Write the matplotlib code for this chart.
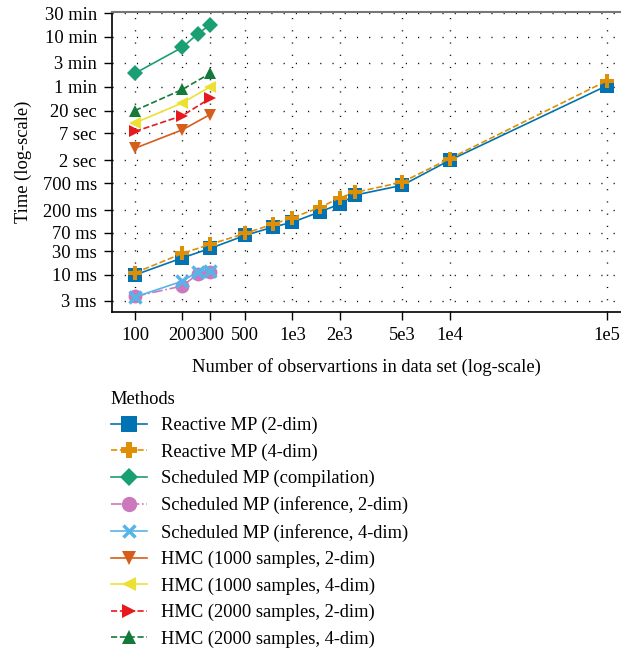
import matplotlib.pyplot as plt

# ==========================
# Data (time in seconds)
# ==========================

n_reactive = [100, 200, 300, 500, 750, 1000, 1500, 2000, 2500, 5000, 10000, 100000]
reactive_2d = [0.010, 0.022, 0.034, 0.062, 0.091, 0.114, 0.185, 0.264, 0.40, 0.63, 2.0, 63]
reactive_4d = [0.011, 0.027, 0.041, 0.068, 0.104, 0.141, 0.226, 0.353, 0.452, 0.73, 2.16, 79]

n_scheduled = [100, 200, 250, 300]
sched_compile = [112, 372, 689, 1050]
sched_inf_2d = [0.0037, 0.0060, 0.0103, 0.0116]
sched_inf_4d = [0.0036, 0.0075, 0.0116, 0.0120]

n_hmc = [100, 200, 300]
hmc_1000_2d = [3.5, 8.2, 16.6]
hmc_1000_4d = [11.3, 28.4, 60]
hmc_2000_2d = [7.6, 15.8, 35]
hmc_2000_4d = [20, 53, 111]

x_ticks = [100, 200, 300, 500, 1000, 2000, 5000, 10000, 100000]
x_labels = ["100", "200", "300", "500", "1e3", "2e3", "5e3", "1e4", "1e5"]

y_ticks = [0.003, 0.01, 0.03, 0.07, 0.2, 0.7, 2, 7, 20, 60, 180, 600, 1800]
y_labels = ["3 ms", "10 ms", "30 ms", "70 ms", "200 ms", "700 ms", "2 sec",
            "7 sec", "20 sec", "1 min", "3 min", "10 min", "30 min"]

series = [
    (n_reactive, reactive_2d, "Reactive MP (2-dim)", "#0173B2", "-", "s"),
    (n_reactive, reactive_4d, "Reactive MP (4-dim)", "#DE8F05", "--", "P"),
    (n_scheduled, sched_compile, "Scheduled MP (compilation)", "#1A9E73", "-", "D"),
    (n_scheduled, sched_inf_2d, "Scheduled MP (inference, 2-dim)", "#CC78BC", "-.", "o"),
    (n_scheduled, sched_inf_4d, "Scheduled MP (inference, 4-dim)", "#56B4E9", "-", "x"),
    (n_hmc, hmc_1000_2d, "HMC (1000 samples, 2-dim)", "#D55E1C", "-", "v"),
    (n_hmc, hmc_1000_4d, "HMC (1000 samples, 4-dim)", "#ECE133", "-", "<"),
    (n_hmc, hmc_2000_2d, "HMC (2000 samples, 2-dim)", "#E8191E", "--", ">"),
    (n_hmc, hmc_2000_4d, "HMC (2000 samples, 4-dim)", "#137A3A", "--", "^"),
]

plt.rcParams["font.family"] = ["Liberation Serif", "DejaVu Serif"]
plt.rcParams["font.size"] = 13.3

fig = plt.figure(figsize=(6.21, 6.5), dpi=100)
ax = fig.add_axes([0.1804, 0.52, 0.8196, 0.4615])

for x, y, label, color, ls, marker in series:
    ms = {"s": 10, "o": 10, "P": 10, "x": 8, "D": 8}.get(marker, 9)
    mew = 2.5 if marker == "x" else 0
    ax.plot(x, y, linestyle=ls, marker=marker, color=color, label=label,
            linewidth=1.2, markersize=ms, markeredgewidth=mew)

ax.set_xscale("log")
ax.set_yscale("log")
ax.set_xlim(71.4, 1.23e5)
ax.set_ylim(0.0018, 1900)

ax.set_xticks(x_ticks)
ax.set_xticklabels(x_labels)
ax.set_yticks(y_ticks)
ax.set_yticklabels(y_labels)
ax.minorticks_off()
ax.tick_params(direction="out", length=6, width=1, pad=5)

ax.grid(True, color="black", linewidth=1.0, linestyle=(0, (0.8, 8)))

ax.spines["right"].set_visible(False)
ax.spines["top"].set_color("#777777")
ax.spines["top"].set_linewidth(1.5)
for s in ("left", "bottom"):
    ax.spines[s].set_linewidth(1.2)

ax.set_xlabel("Number of observartions in data set (log-scale)")
ax.set_ylabel("Time (log-scale)")
ax.xaxis.set_label_coords(0.5, -0.155)
ax.yaxis.set_label_coords(-0.157, 0.5)

fig.legend(loc="upper left", bbox_to_anchor=(0.178, 0.399), frameon=False,
           title="Methods", alignment="left", handlelength=1.95,
           labelspacing=0.5, handletextpad=0.8, borderaxespad=0,
           borderpad=0, markerscale=1.1)

fig.savefig("out.png", dpi=100)
